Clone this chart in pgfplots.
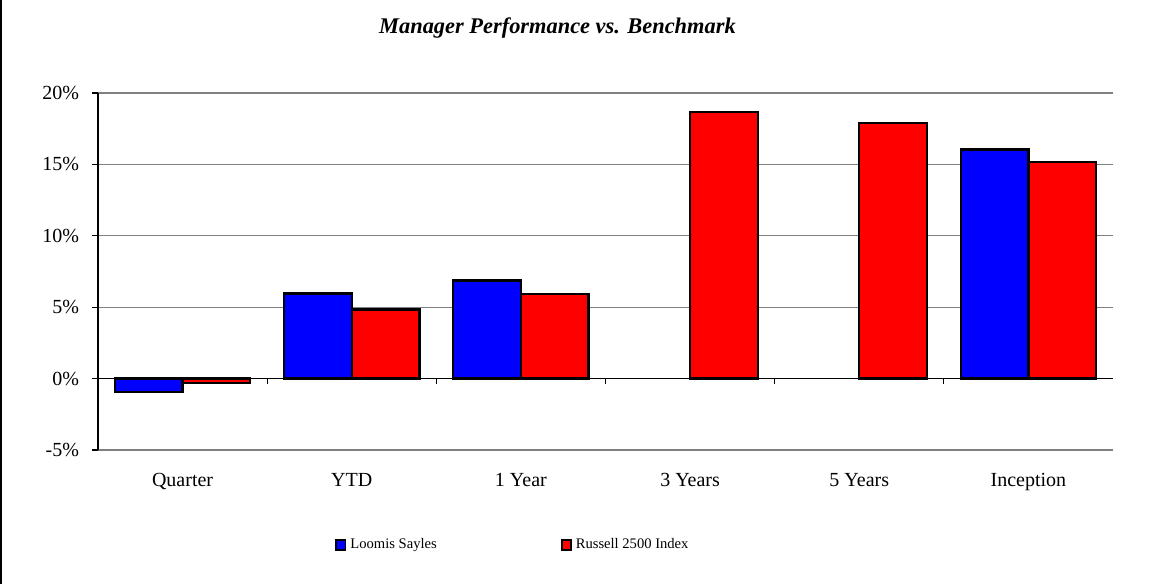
\documentclass[border=0pt]{standalone}
\usepackage{pgfplots}
\pgfplotsset{compat=1.18}
\usepackage{fontspec}
\setmainfont{Liberation Serif}
\definecolor{barblue}{RGB}{0,0,255}
\definecolor{barred}{RGB}{255,0,0}
\begin{document}
\begin{tikzpicture}
\path[use as bounding box] (0,0) rectangle (578pt,292pt);
\draw[black, line width=0.8pt] (0.4pt,0) -- (0.4pt,292pt);
\begin{axis}[
  at={(49pt,67pt)}, anchor=south west,
  scale only axis, width=507.5pt, height=178.5pt,
  ybar=0pt, bar width=0.4,
  xmin=-0.5, xmax=5.5, ymin=-5, ymax=20,
  axis y line*=left, axis x line*=bottom,
  x axis line style={draw=none},
  y axis line style={black, line width=0.6pt, -},
  xtick={0,...,5}, xtick style={draw=none},
  xticklabels={Quarter,YTD,1 Year,3 Years,5 Years,Inception},
  ytick={-5,0,5,10,15,20},
  yticklabel={\pgfmathprintnumber{\tick}\%},
  /pgf/number format/assume math mode=true,
  tick align=outside, major tick length=3pt,
  ytick style={black, line width=0.6pt},
  ymajorgrids, grid style={gray, line width=0.6pt},
  extra y ticks={0}, extra y tick labels={},
  extra y tick style={grid style={black, line width=0.7pt}},
  tick label style={font=\fontsize{10}{12}\selectfont},
  yticklabel style={xshift=-3pt},
  xticklabel style={anchor=base, yshift=-15pt},
  title={\textbf{\textit{Manager Performance vs. Benchmark}}},
  title style={font=\fontsize{11.2}{13}\selectfont, at={(axis description cs:0.4527,1.132)}, anchor=base},
  legend columns=2,
  legend style={draw=none, fill=none, font=\fontsize{7.3}{8}\selectfont,
    at={(axis description cs:0.2335,-0.266)}, anchor=west, inner sep=0pt,
    /tikz/every even column/.append style={column sep=60pt}},
  legend image code/.code={\draw[#1, line width=0.9pt] (0pt,-2.6pt) rectangle (4.6pt,2.6pt);},
  every axis plot/.append style={draw=black, line width=1.2pt},
]
\addplot[fill=barblue] coordinates {(0,-0.93) (1,5.95) (2,6.86) (5,16.04)};
\addplot[fill=barred] coordinates {(0,-0.3) (1,4.83) (2,5.93) (3,18.68) (4,17.9) (5,15.15)};
\legend{Loomis Sayles, Russell 2500 Index}
\pgfplotsinvokeforeach{0.5,1.5,2.5,3.5,4.5}{\draw[black, line width=0.6pt] (axis cs:#1,0) -- ([yshift=-2.5pt]axis cs:#1,0);}
\end{axis}
\end{tikzpicture}
\end{document}
